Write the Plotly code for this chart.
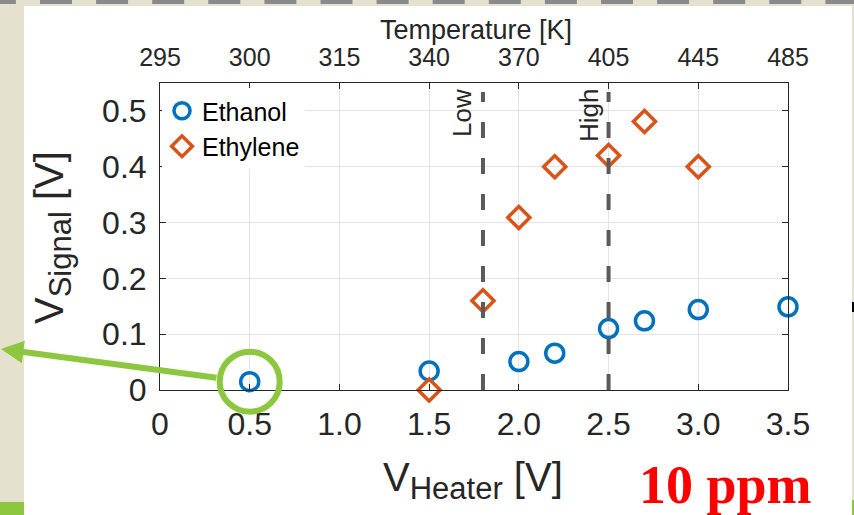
import plotly.graph_objects as go

# ---- data ----
ethanol_x = [0.5, 1.5, 2.0, 2.2, 2.5, 2.7, 3.0, 3.5]
ethanol_y = [0.015, 0.034, 0.051, 0.066, 0.110, 0.124, 0.144, 0.149]
ethylene_x = [1.5, 1.8, 2.0, 2.2, 2.5, 2.7, 3.0]
ethylene_y = [0.000, 0.160, 0.309, 0.400, 0.420, 0.481, 0.400]
x_ticks = [0, 0.5, 1.0, 1.5, 2.0, 2.5, 3.0, 3.5]
x_tick_text = ["0", "0.5", "1.0", "1.5", "2.0", "2.5", "3.0", "3.5"]
temp_tick_text = ["295", "300", "315", "340", "370", "405", "445", "485"]
y_ticks = [0, 0.1, 0.2, 0.3, 0.4, 0.5]
y_tick_text = ["0", "0.1", "0.2", "0.3", "0.4", "0.5"]
marker_lines = [1.8, 2.5]
marker_labels = ["Low", "High"]
highlight_point = (0.5, 0.015)
x_range = [0, 3.5]
y_range = [0, 0.55]

W_FIG, H_FIG = 854, 515
L, R, T, B = 160, 788, 83, 390
PW, PH = R - L, B - T

def px(xp):
    return (xp - L) / PW

def py(yp):
    return (B - yp) / PH

FONT = "Arial, Liberation Sans, Helvetica, sans-serif"
DARK = "#262626"
GRID = "#e4e4e4"
BEIGE = "#E4E2CE"
GREEN = "#8DC63F"
BLUE = "#0072BD"
ORANGE = "#D95319"

fig = go.Figure()
fig.add_trace(go.Scatter(
    x=ethanol_x, y=ethanol_y, mode="markers", name="Ethanol",
    marker=dict(symbol="circle-open", size=18, color=BLUE, line=dict(width=3.5, color=BLUE)),
    cliponaxis=False))
fig.add_trace(go.Scatter(
    x=ethylene_x, y=ethylene_y, mode="markers", name="Ethylene",
    marker=dict(symbol="diamond-open", size=17, color=ORANGE, line=dict(width=3.5, color=ORANGE)),
    cliponaxis=False))
# dummy trace for the top temperature axis
fig.add_trace(go.Scatter(x=[x_ticks[0], x_ticks[-1]], y=[None, None], xaxis="x2",
                         showlegend=False, hoverinfo="skip", mode="markers"))

shapes = []
# slide background pieces
shapes.append(dict(type="rect", xref="paper", yref="paper", layer="below",
                   x0=px(24), x1=px(852), y0=py(W_FIG), y1=py(6),
                   fillcolor="white", line=dict(width=0)))
k = 0
while True:
    s = 40 + 56.1 * (k - 1)
    if s > W_FIG:
        break
    e = s + 32
    shapes.append(dict(type="rect", xref="paper", yref="paper", layer="below",
                       x0=px(max(s, 0)), x1=px(min(e, W_FIG)), y0=py(4), y1=py(-2),
                       fillcolor="#8a8a8a", line=dict(width=0)))
    k += 1
shapes.append(dict(type="rect", xref="paper", yref="paper", layer="below",
                   x0=px(-2), x1=px(24), y0=py(520), y1=py(502),
                   fillcolor=GREEN, line=dict(width=0)))
shapes.append(dict(type="rect", xref="paper", yref="paper", layer="below",
                   x0=px(852), x1=px(856), y0=py(520), y1=py(500),
                   fillcolor=GREEN, line=dict(width=0)))
shapes.append(dict(type="rect", xref="paper", yref="paper", layer="below",
                   x0=px(852), x1=px(856), y0=py(312), y1=py(302),
                   fillcolor="black", line=dict(width=0)))
# dashed threshold lines
for xv in marker_lines:
    shapes.append(dict(type="line", xref="x", yref="paper", x0=xv, x1=xv, y0=0, y1=py(92),
                       line=dict(color="#5a5a5a", width=4, dash="16px,20px")))
# highlight circle (paper-referenced so it is not clipped by the plot area)
hx = (highlight_point[0] - x_range[0]) / (x_range[1] - x_range[0])
hy = (highlight_point[1] - y_range[0]) / (y_range[1] - y_range[0])
shapes.append(dict(type="circle", xref="paper", yref="paper", xsizemode="pixel", ysizemode="pixel",
                   xanchor=hx, yanchor=hy,
                   x0=-30, x1=30, y0=-30, y1=30, line=dict(color=GREEN, width=6)))

annotations = [
    dict(text="Temperature [K]", xref="paper", yref="paper", x=px(476), y=py(30),
         xanchor="center", yanchor="middle", showarrow=False,
         font=dict(family=FONT, size=27, color=DARK)),
    dict(text='V<sub><span style="font-size:31px">Heater</span></sub> [V]',
         xref="paper", yref="paper", x=px(473), y=py(480),
         xanchor="center", yanchor="middle", showarrow=False,
         font=dict(family=FONT, size=40, color=DARK)),
    dict(text='V<sub><span style="font-size:31px">Signal</span></sub> [V]',
         xref="paper", yref="paper", x=px(52), y=py(238),
         xanchor="center", yanchor="middle", showarrow=False, textangle=-90,
         font=dict(family=FONT, size=40, color=DARK)),
    dict(text="<b>10 ppm</b>", xref="paper", yref="paper", x=px(725), y=py(485),
         xanchor="center", yanchor="middle", showarrow=False,
         font=dict(family="Liberation Serif, DejaVu Serif, serif", size=54, color="#FF0000")),
    dict(text="", xref="paper", yref="paper", x=px(-3), y=py(349),
         ax=221, ay=29, showarrow=True, arrowhead=2, arrowsize=0.75,
         arrowwidth=6, arrowcolor=GREEN, standoff=0),
]
for xv, lab, cx, cy in zip(marker_lines, marker_labels, [462, 589], [113, 116]):
    annotations.append(dict(text=lab, xref="paper", yref="paper", x=px(cx), y=py(cy),
                            xanchor="center", yanchor="middle", showarrow=False, textangle=-90,
                            font=dict(family=FONT, size=26, color=DARK)))

fig.update_layout(
    width=W_FIG, height=H_FIG,
    margin=dict(l=L, r=W_FIG - R, t=T, b=H_FIG - B, pad=0),
    paper_bgcolor=BEIGE, plot_bgcolor="white",
    font=dict(family=FONT, color=DARK),
    shapes=shapes, annotations=annotations,
    showlegend=True,
    legend=dict(x=px(162), y=py(88), xanchor="left", yanchor="top",
                bgcolor="white", borderwidth=0, itemwidth=30,
                font=dict(family=FONT, size=25, color="black"),
                tracegroupgap=0, itemclick=False),
    xaxis=dict(range=x_range, tickvals=x_ticks, ticktext=x_tick_text,
               showgrid=True, gridcolor=GRID, gridwidth=1, zeroline=False,
               showline=True, linecolor=DARK, linewidth=1, mirror=False,
               ticks="inside", ticklen=6, tickcolor=DARK, tickwidth=1,
               tickfont=dict(family=FONT, size=32, color=DARK), ticklabelstandoff=6),
    xaxis2=dict(range=x_range, tickvals=x_ticks, ticktext=temp_tick_text,
                overlaying="x", side="top", anchor="y", showgrid=False, zeroline=False,
                showline=True, linecolor=DARK, linewidth=1,
                ticks="inside", ticklen=6, tickcolor=DARK, tickwidth=1,
                tickfont=dict(family=FONT, size=25, color=DARK), ticklabelstandoff=6),
    yaxis=dict(range=y_range, tickvals=y_ticks, ticktext=y_tick_text,
               showgrid=True, gridcolor=GRID, gridwidth=1, zeroline=False,
               showline=True, linecolor=DARK, linewidth=1, mirror="ticks",
               ticks="inside", ticklen=6, tickcolor=DARK, tickwidth=1,
               tickfont=dict(family=FONT, size=32, color=DARK), ticklabelstandoff=6),
)

fig.write_html("out.html", config={"displayModeBar": False},
               post_script="document.body.style.margin='0';document.body.style.overflow='hidden';")
